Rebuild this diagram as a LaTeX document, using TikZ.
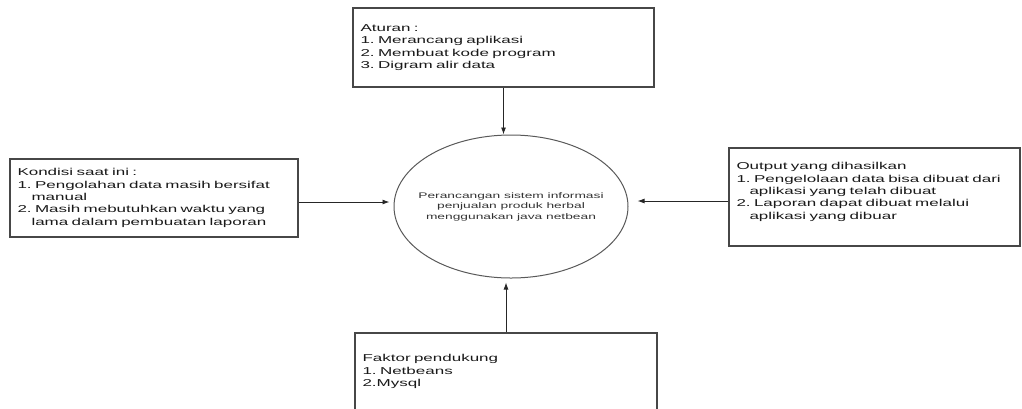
\documentclass[tikz,border=0pt]{standalone}
\usepackage{fontspec}
\setmainfont{Liberation Sans}[FakeStretch=1.7]
\usetikzlibrary{shapes.geometric,arrows.meta}
\tikzset{
  infobox/.style={draw=black!72, line width=1.2pt, rectangle, align=left,
    inner xsep=7.5pt, inner ysep=0pt, text=black!90,
    font=\frenchspacing\fontsize{10pt}{12.3pt}\selectfont},
  procnode/.style={draw=black!65, line width=1pt, ellipse, align=center,
    minimum width=234pt, minimum height=143pt, inner xsep=-14pt, inner ysep=0pt,
    text=black!80, font=\frenchspacing\fontsize{8.1pt}{10.5pt}\selectfont},
  arr/.style={draw=black!85, line width=0.9pt, -{Latex[length=7pt,width=5pt]}}
}
\begin{document}
\begin{tikzpicture}[x=1pt,y=-1pt]
\useasboundingbox (0,0) rectangle (1022,408);
\node[infobox, minimum width=301pt, minimum height=79pt, text width=286pt] (aturan) at (503.5,47.5)
  {Aturan :\\1. Merancang aplikasi\\2. Membuat kode program\\3. Digram alir data};
\node[infobox, minimum width=288pt, minimum height=78pt, text width=273pt] (kondisi) at (154,198)
  {Kondisi saat ini :\\1. Pengolahan data masih bersifat\\\hspace*{14pt}manual\\2. Masih mebutuhkan waktu yang\\\hspace*{14pt}lama dalam pembuatan laporan};
\node[infobox, minimum width=291pt, minimum height=98pt, text width=276pt] (output) at (874.5,197)
  {Output yang dihasilkan\\1. Pengelolaan data bisa dibuat dari\\\hspace*{13pt}aplikasi yang telah dibuat\\2. Laporan dapat dibuat melalui\\\hspace*{13pt}aplikasi yang dibuar\par\vspace{10pt}};
\node[infobox, minimum width=302pt, minimum height=77pt, text width=287pt] (faktor) at (506,371.5)
  {Faktor pendukung\\1. Netbeans\\2.Mysql};
\node[procnode] (proc) at (511,206.5)
  {Perancangan sistem informasi\\penjualan produk herbal\\menggunakan java netbean};
\draw[arr] (aturan.south) -- (aturan.south |- proc.north);
\draw[arr, shorten >=4pt] (faktor.north) -- (faktor.north |- proc.south);
\draw[arr, shorten >=4pt] ([yshift=-4pt]kondisi.east) -- ([yshift=-4pt]kondisi.east -| proc.west);
\draw[arr, shorten >=9pt] ([yshift=-4pt]output.west) -- ([yshift=-4pt]output.west -| proc.east);
\end{tikzpicture}
\end{document}
